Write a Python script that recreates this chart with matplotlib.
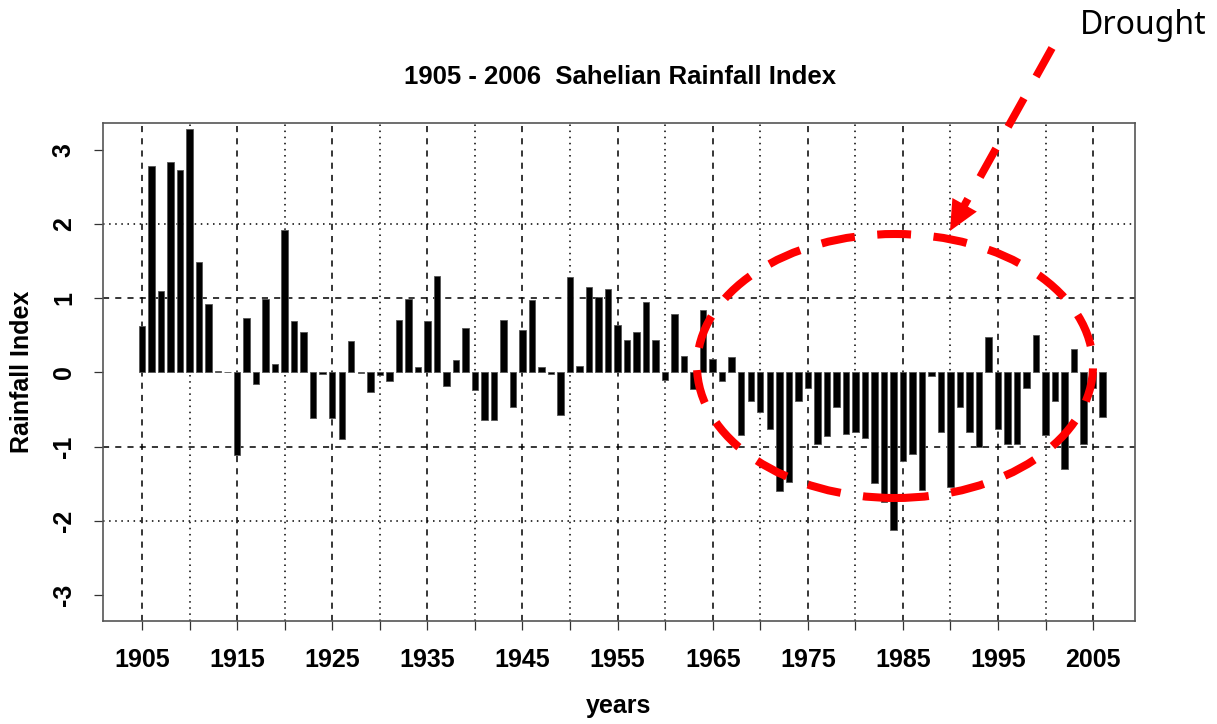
import matplotlib as mpl
import matplotlib.pyplot as plt
import numpy as np
from matplotlib.patches import Ellipse, Polygon
from matplotlib.lines import Line2D

years = np.arange(1905, 2007)
rain_index = [
    0.63, 2.78, 1.09, 2.84, 2.73, 3.28, 1.49, 0.92, 0.02, 0.01,   # 1905-1914
    -1.11, 0.73, -0.16, 0.99, 0.11, 1.92, 0.69, 0.55, -0.61, -0.02,  # 1915-1924
    -0.61, -0.90, 0.42, -0.01, -0.27, -0.03, -0.12, 0.71, 0.99, 0.07,  # 1925-1934
    0.69, 1.30, -0.18, 0.17, 0.60, -0.24, -0.64, -0.64, 0.71, -0.47,  # 1935-1944
    0.57, 0.97, 0.07, -0.02, -0.58, 1.28, 0.09, 1.15, 1.02, 1.12,   # 1945-1954
    0.64, 0.44, 0.55, 0.95, 0.44, -0.10, 0.78, 0.22, -0.22, 0.84,   # 1955-1964
    0.18, -0.12, 0.21, -0.85, -0.38, -0.53, -0.76, -1.60, -1.48, -0.38,  # 1965-1974
    -0.21, -0.97, -0.86, -0.46, -0.83, -0.80, -0.88, -1.49, -1.75, -2.12,  # 1975-1984
    -1.20, -1.10, -1.58, -0.05, -0.81, -1.55, -0.46, -0.80, -1.00, 0.47,  # 1985-1994
    -0.76, -0.97, -0.97, -0.21, 0.51, -0.85, -0.39, -1.30, 0.32, -0.96,  # 1995-2004
    -0.21, -0.60,  # 2005-2006
]
tick_years = np.arange(1905, 2006, 5)
tick_labels = [str(y) if (y - 1905) % 10 == 0 else "" for y in tick_years]
y_ticks = [-3, -2, -1, 0, 1, 2, 3]

W, H = 1217, 724
fig = plt.figure(figsize=(W / 100, H / 100), dpi=100)
ax = fig.add_axes([103 / W, 1 - 621 / H, (1135 - 103) / W, (621 - 123) / H])

bold = dict(family="Liberation Sans", weight="bold")

# grid: dashed every 10 yrs from 1905, dotted in between; dashed at +-1, dotted at +-2
for y in tick_years:
    if (y - 1905) % 10 == 0:
        ax.axvline(y, color="black", lw=1.1, ls=(0, (4, 4)), zorder=1)
    else:
        ax.axvline(y, color="black", lw=1.1, ls=(0, (1, 3)), zorder=1)
for v in [-1, 1]:
    ax.axhline(v, color="black", lw=1.1, ls=(0, (4, 4)), zorder=1)
for v in [-2, 2]:
    ax.axhline(v, color="black", lw=1.1, ls=(0, (1, 3)), zorder=1)

ax.bar(years, rain_index, width=0.68, color="black", edgecolor="#555555",
       linewidth=0.6, zorder=2)

ax.set_xlim(1900.9, 2009.4)
ax.set_ylim(-3.35, 3.36)
ax.set_xticks(tick_years)
ax.set_xticklabels(tick_labels, fontsize=18, **bold)
ax.set_yticks(y_ticks)
ax.set_yticklabels([str(v) for v in y_ticks], fontsize=18, rotation=90,
                   va="center", **bold)
ax.tick_params(length=6.5, width=0.9, pad=13, color="#333333")
for s in ax.spines.values():
    s.set_color("#555555")
    s.set_linewidth(1.2)

fig.text(620 / W, 1 - 77 / H, "1905 - 2006  Sahelian Rainfall Index",
         ha="center", va="center", fontsize=18.5, **bold)
fig.text(619 / W, 1 - 706 / H, "years", ha="center", va="center",
         fontsize=18, **bold)
fig.text(22 / W, 1 - 372 / H, "Rainfall Index", ha="center", va="center",
         rotation=90, fontsize=18, **bold)
fig.text(1143 / W, 1 - 26 / H, "Drought", ha="center", va="center",
         fontsize=23, family="Noto Sans")

# red dashed ellipse around the drought period
ell = Ellipse((895 / W, 1 - 366 / H), 396 / W, 264 / H,
              transform=fig.transFigure, fill=False, edgecolor="#ff0000",
              lw=5.8, ls=(0, (4.2, 2.8)), zorder=5)
fig.add_artist(ell)

# red dashed arrow from the label to the ellipse
x0, y0 = 1052, 48
x1, y1 = 950, 231
d = np.array([x1 - x0, y1 - y0], float)
u = d / np.hypot(*d)
p = np.array([u[1], -u[0]])
base = np.array([x1, y1]) - 30 * u
fx = lambda x: x / W
fy = lambda y: 1 - y / H
shaft_end = base + 3 * u
fig.add_artist(Line2D([fx(x0), fx(shaft_end[0])], [fy(y0), fy(shaft_end[1])],
                      transform=fig.transFigure, color="#ff0000", lw=5.6,
                      ls=(0, (4.2, 3.2)), solid_capstyle="butt"))
c1 = base + 14 * p
c2 = base - 14 * p
head = Polygon([[fx(x1), fy(y1)], [fx(c1[0]), fy(c1[1])], [fx(c2[0]), fy(c2[1])]],
               closed=True, transform=fig.transFigure, color="#ff0000", lw=0)
fig.add_artist(head)

fig.savefig("out.png", dpi=100)
